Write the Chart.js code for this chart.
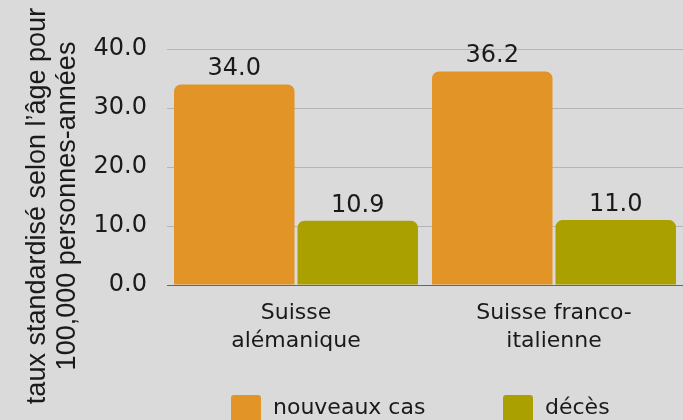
<!DOCTYPE html>
<html lang="fr">
<head>
<meta charset="utf-8">
<script src="https://cdn.jsdelivr.net/npm/chart.js@4.4.1/dist/chart.umd.min.js"></script>
<style>
  html, body { margin: 0; padding: 0; background: #dadada; }
  #wrap { position: relative; width: 683px; height: 420px; overflow: hidden; background: #dadada; }
  #legend .item { position: absolute; top: 0; left: 0; }
  #legend .box { position: absolute; top: 395px; width: 30px; height: 30px; border-radius: 3px; }
  #legend .txt { position: absolute; top: 394px; font: 22px "DejaVu Sans"; line-height: 26px; color: #1a1a1a; white-space: nowrap; }
</style>
</head>
<body>
<div id="wrap">
  <canvas id="chart" width="683" height="420"></canvas>
  <div id="legend"></div>
</div>
<script>
// data
const regions = [['Suisse', 'alémanique'], ['Suisse franco-', 'italienne']];
const seriesNames = ['nouveaux cas', 'décès'];
const nouveauxCas = [34.0, 36.2];
const deces = [10.9, 11.0];
const seriesColors = ['#e39427', '#aaa000'];
const yTicks = { min: 0, max: 40, step: 10 };
const yTitle = ['taux standardisé selon l’âge pour', '100,000 personnes-années'];

const textColor = '#1a1a1a';

// y axis title, drawn rotated and centred on the canvas
const titlePlugin = {
    id: 'yTitle',
    afterDraw(chart) {
        const ctx = chart.ctx;
        ctx.save();
        ctx.translate(45, 206);
        ctx.rotate(-Math.PI / 2);
        ctx.font = '27px "Liberation Sans"';
        ctx.fillStyle = textColor;
        ctx.textAlign = 'center';
        ctx.textBaseline = 'alphabetic';
        yTitle.forEach((line, i) => ctx.fillText(line, 0, i * 30));
        ctx.restore();
    }
};

// value labels above each bar
const valuePlugin = {
    id: 'values',
    afterDatasetsDraw(chart) {
        const ctx = chart.ctx;
        ctx.save();
        ctx.font = '24px "DejaVu Sans"';
        ctx.fillStyle = textColor;
        ctx.textAlign = 'center';
        ctx.textBaseline = 'alphabetic';
        chart.data.datasets.forEach((ds, i) => {
            chart.getDatasetMeta(i).data.forEach((bar, j) => {
                ctx.fillText(ds.data[j].toFixed(1), bar.x, bar.y - 9);
            });
        });
        ctx.restore();
    }
};

const chart = new Chart(document.getElementById('chart'), {
    type: 'bar',
    data: {
        labels: regions,
        datasets: [
            { label: seriesNames[0], data: nouveauxCas, backgroundColor: seriesColors[0] },
            { label: seriesNames[1], data: deces, backgroundColor: seriesColors[1] }
        ]
    },
    options: {
        responsive: false,
        animation: false,
        layout: { padding: { top: 49, right: 0, left: 0, bottom: 0 } },
        datasets: {
            bar: {
                categoryPercentage: 0.957,
                barPercentage: 0.976,
                borderRadius: 7,
                borderSkipped: 'start'
            }
        },
        scales: {
            x: {
                grid: { display: false, drawTicks: false },
                border: { display: true, color: '#666666', width: 1 },
                ticks: {
                    padding: 14,
                    color: textColor,
                    maxRotation: 0,
                    autoSkip: false,
                    font: { family: 'DejaVu Sans', size: 22, lineHeight: 1.29 }
                },
                afterFit: s => { s.height = 135; }
            },
            y: {
                min: yTicks.min,
                max: yTicks.max,
                grid: {
                    drawTicks: false,
                    color: c => c.tick && c.tick.value === 0 ? '#666666' : '#b5b5b5'
                },
                border: { display: false },
                ticks: {
                    stepSize: yTicks.step,
                    padding: 20,
                    color: textColor,
                    font: { family: 'DejaVu Sans', size: 24 },
                    callback: v => v.toFixed(1)
                },
                afterFit: s => { s.width = 167; }
            }
        },
        plugins: {
            legend: { display: false },
            tooltip: { enabled: false }
        }
    },
    plugins: [titlePlugin, valuePlugin]
});

// html legend
const legendLeft = [231, 503];
const legendEl = document.getElementById('legend');
legendEl.innerHTML = seriesNames.map((name, i) => `
  <div class="box" style="left:${legendLeft[i]}px;background:${seriesColors[i]}"></div>
  <div class="txt" style="left:${legendLeft[i] + 42}px">${name}</div>`).join('');
</script>
</body>
</html>
